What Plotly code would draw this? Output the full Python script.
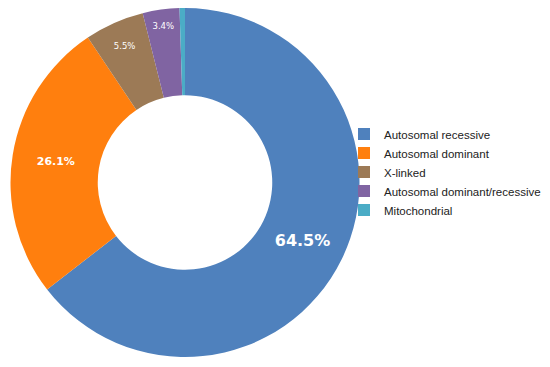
import plotly.graph_objects as go

labels = ["Autosomal recessive", "Autosomal dominant", "X-linked",
          "Autosomal dominant/recessive", "Mitochondrial"]
values = [64.5, 26.1, 5.5, 3.4, 0.5]
colors = ["#4f81bd", "#ff7f0e", "#9c7a56", "#8064a2", "#4bacc6"]
label_texts = ["<b>64.5%</b>", "<b>26.1%</b>", "5.5%", "3.4%", ""]
label_sizes = [16, 11, 8.5, 8.5, 8]

# page body adds an 8px offset; positions below compensate for it
fig = go.Figure(go.Pie(
    labels=labels,
    values=values,
    text=label_texts,
    textinfo="text",
    textposition="inside",
    insidetextorientation="horizontal",
    textfont=dict(family="DejaVu Sans", color="white", size=label_sizes),
    marker=dict(colors=colors, line=dict(width=0)),
    hole=0.5,
    sort=False,
    direction="clockwise",
    rotation=0,
    domain=dict(x=[2.5/550, 351.5/550], y=[(367-349)/367, 1]),
))

fig.update_layout(
    width=550, height=367,
    margin=dict(l=0, r=0, t=0, b=0),
    paper_bgcolor="white",
    plot_bgcolor="white",
    showlegend=True,
    legend=dict(
        x=336/550, y=(367-164)/367, xanchor="left", yanchor="middle",
        font=dict(family="Liberation Sans", size=11.5, color="#222222"),
        itemwidth=30,
        bgcolor="rgba(0,0,0,0)",
    ),
)

fig.write_html("out.html")
